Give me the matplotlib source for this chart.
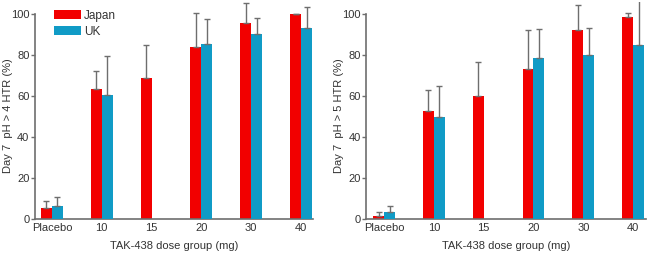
import matplotlib
matplotlib.use("Agg")
import matplotlib.pyplot as plt
import numpy as np

plt.rcParams['font.family'] = ['Liberation Sans', 'DejaVu Sans']
plt.rcParams['font.size'] = 8

groups = ['Placebo', '10', '15', '20', '30', '40']

# Day 7 pH > 4 HTR (%)
japan_ph4 = [5.5, 63.5, 68.7, 83.7, 95.6, 100.0]
japan_ph4_err = [3.4, 8.6, 16.0, 16.6, 9.9, 0.0]
uk_ph4 = [6.3, 60.3, np.nan, 85.5, 90.4, 93.0]
uk_ph4_err = [4.4, 19.2, np.nan, 12.1, 7.5, 10.4]

# Day 7 pH > 5 HTR (%)
japan_ph5 = [1.6, 52.5, 60.0, 73.2, 92.2, 98.4]
japan_ph5_err = [1.7, 10.6, 16.4, 18.7, 12.0, 1.9]
uk_ph5 = [3.3, 49.6, np.nan, 78.5, 79.8, 84.7]
uk_ph5_err = [3.0, 15.4, np.nan, 13.9, 13.4, 23.0]

red = '#f20000'
blue = '#109bc6'
grey = '#6e6e6e'
txt = '#333333'

fig = plt.figure(figsize=(6.48, 2.54), dpi=100)
ax1 = fig.add_axes([0.054, 0.138, 0.429, 0.856])
ax2 = fig.add_axes([0.565, 0.138, 0.432, 0.856])

x = np.arange(len(groups))
w = 0.22


def draw(ax, jp, jp_err, uk, uk_err, ylabel, xlim, legend):
    eb = dict(ecolor=grey, elinewidth=1, capsize=2.5, capthick=1)
    jp_err_arr = np.array([np.zeros(len(jp)), jp_err])
    uk_err_arr = np.array([np.zeros(len(uk)), uk_err])
    ax.bar(x - w / 2, jp, w, color=red, label='Japan',
           yerr=jp_err_arr, error_kw=eb, zorder=2)
    ax.bar(x + w / 2, uk, w, color=blue, label='UK',
           yerr=uk_err_arr, error_kw=eb, zorder=3)
    ax.set_xlim(*xlim)
    ax.set_ylim(0, 106)
    ax.set_yticks([0, 20, 40, 60, 80, 100])
    ax.set_xticks(x)
    ax.set_xticklabels(groups)
    ax.tick_params(axis='x', length=0, pad=3, colors=txt)
    ax.tick_params(axis='y', length=3, width=1, pad=1, colors=txt)
    ax.tick_params(axis='y', color=grey)
    for s in ['top', 'right']:
        ax.spines[s].set_visible(False)
    for s in ['left', 'bottom']:
        ax.spines[s].set_color(grey)
        ax.spines[s].set_linewidth(1.2)
    ax.spines['left'].set_bounds(0, 100)
    ax.set_ylabel(ylabel, color=txt)
    ax.yaxis.set_label_coords(-0.08, 0.475)
    ax.set_xlabel('TAK-438 dose group (mg)', color=txt, labelpad=6)
    if legend:
        ax.legend(loc='upper left', bbox_to_anchor=(0.05, 0.985), frameon=False,
                  handlelength=2.3, handleheight=0.75, labelspacing=0.35,
                  handletextpad=0.3, borderaxespad=0, labelcolor=txt,
                  fontsize=8.5)


draw(ax1, japan_ph4, japan_ph4_err, uk_ph4, uk_ph4_err,
     'Day 7  pH > 4 HTR (%)', (-0.34, 5.24), True)
draw(ax2, japan_ph5, japan_ph5_err, uk_ph5, uk_ph5_err,
     'Day 7  pH > 5 HTR (%)', (-0.36, 5.26), False)

fig.savefig('out.png', dpi=100)
